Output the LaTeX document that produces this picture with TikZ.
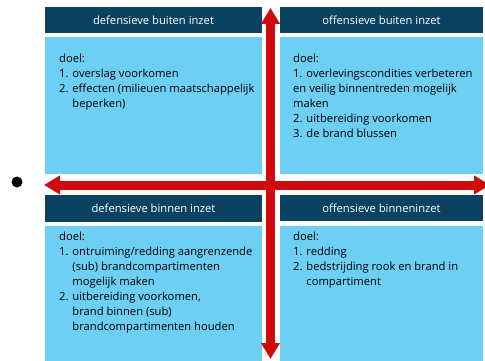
\documentclass[tikz,border=0pt]{standalone}
\usepackage{fontspec}
\setmainfont{Open Sans}
\usepackage{tikz}
\usetikzlibrary{arrows.meta}

\definecolor{kopblauw}{HTML}{0B4262}
\definecolor{vlakblauw}{HTML}{6DCFF4}
\definecolor{pijlrood}{HTML}{D00A0A}

\tikzset{
  kop/.style={fill=kopblauw, text=white, inner sep=0pt, font=\fontsize{11.2}{13}\selectfont},
  vlak/.style={fill=vlakblauw, inner sep=0pt},
  doel/.style={anchor=north west, align=left, inner sep=0pt, font=\fontsize{11.2}{15}\selectfont},
  pijl/.style={pijlrood, line width=9pt, {Triangle[length=16pt,width=18pt]}-{Triangle[length=16pt,width=18pt]}}
}

\begin{document}
\begin{tikzpicture}[x=1pt, y=-1pt]
    \useasboundingbox (0, 0) rectangle (485, 361);

    % linksboven
    \node[kop, minimum width=217, minimum height=26] (kop1) at (153.5, 20) {defensieve buiten inzet};
    \node[vlak, minimum width=217, minimum height=137] (vak1) at (153.5, 105.5) {};
    \node[doel] (doel1) at (59, 54) {doel:\\1. overslag voorkomen\\2. effecten (milieuen maatschappelijk\\\phantom{2. }beperken)};

    % rechtsboven
    \node[kop, minimum width=203, minimum height=26] (kop2) at (381.5, 20) {offensieve buiten inzet};
    \node[vlak, minimum width=203, minimum height=137] (vak2) at (381.5, 105.5) {};
    \node[doel] (doel2) at (293, 54) {doel:\\1. overlevingscondities verbeteren\\en veilig binnentreden mogelijk\\maken\\2. uitbereiding voorkomen\\3. de brand blussen};

    % linksonder
    \node[kop, minimum width=217, minimum height=27] (kop3) at (153.5, 208.5) {defensieve binnen inzet};
    \node[vlak, minimum width=217, minimum height=136] (vak3) at (153.5, 294) {};
    \node[doel] (doel3) at (59, 232) {doel:\\1. ontruiming/redding aangrenzende\\\phantom{1. }(sub) brandcompartimenten\\\phantom{1. }mogelijk maken\\2. uitbereiding voorkomen,\\\phantom{2. }brand binnen (sub)\\\phantom{2. }brandcompartimenten houden};

    % rechtsonder
    \node[kop, minimum width=203, minimum height=26] (kop4) at (381.5, 208) {offensieve binneninzet};
    \node[vlak, minimum width=203, minimum height=136] (vak4) at (381.5, 294) {};
    \node[doel] (doel4) at (293, 232) {doel:\\1. redding\\2. bedstrijding rook en brand in\\\phantom{2. }compartiment};

    % pijlen
    \coordinate (boven) at (270.5, 8);
    \coordinate (onder) at (270.5, 359);
    \coordinate (links) at (44, 185);
    \coordinate (rechts) at (490, 185);
    \draw[pijl] (links) -- (rechts);
    \draw[pijl] (boven) -- (onder);

    \fill (17, 182) circle (5.5) node (stip) {};
\end{tikzpicture}
\end{document}
